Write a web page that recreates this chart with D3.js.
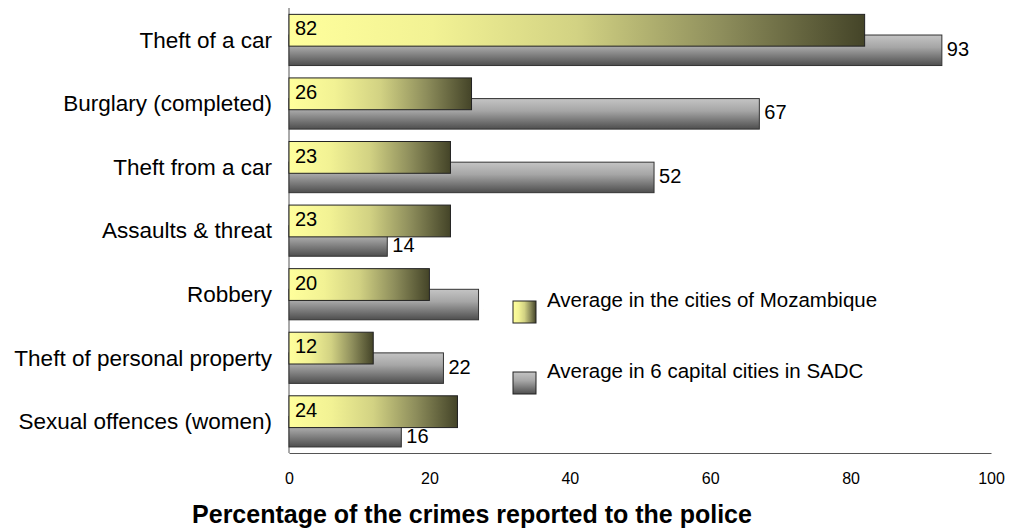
<!DOCTYPE html>
<html lang="en">
<head>
    <meta charset="UTF-8">
    <title>Crimes reported to the police</title>
    <script src="https://d3js.org/d3.v7.min.js"></script>
    <style>
        body { margin: 0; background: #fff; }
        svg text { font-family: "Liberation Sans", Arial, sans-serif; fill: #000; }
        .cat-label { font-size: 22.5px; text-anchor: end; }
        .val-label { font-size: 20px; }
        .tick text { font-size: 16px; }
        .legend-label { font-size: 20.5px; }
        .axis-title { font-size: 25px; font-weight: bold; text-anchor: middle; }
    </style>
</head>
<body>
<script>
    const categories = ["Theft of a car", "Burglary (completed)", "Theft from a car", "Assaults & threat",
        "Robbery", "Theft of personal property", "Sexual offences (women)"];
    const mozambique = [82, 26, 23, 23, 20, 12, 24];
    const sadc = [93, 67, 52, 14, 27, 22, 16];
    const xTicks = [0, 20, 40, 60, 80, 100];
    const seriesNames = ["Average in the cities of Mozambique", "Average in 6 capital cities in SADC"];

    let width = 1013;
    let height = 529;

    let svg = d3.select("body").append("svg")
        .attr("width", width)
        .attr("height", height);

    let defs = svg.append("defs");

    // yellow bars fade from light yellow to dark olive, left to right
    let yellowGrad = defs.append("linearGradient")
        .attr("id", "yellowGrad")
        .attr("x1", "0").attr("y1", "0").attr("x2", "1").attr("y2", "0");
    [[0, "#ffff9c"], [0.25, "#f2f294"], [0.5, "#d2d283"], [0.75, "#8e8e5c"], [1, "#444428"]]
        .forEach(s => yellowGrad.append("stop").attr("offset", s[0]).attr("stop-color", s[1]));

    // grey bars fade from light grey to dark grey, top to bottom
    let greyGrad = defs.append("linearGradient")
        .attr("id", "greyGrad")
        .attr("x1", "0").attr("y1", "0").attr("x2", "0").attr("y2", "1");
    [[0, "#c4c4c4"], [0.4, "#a6a6a6"], [1, "#4e4e4e"]]
        .forEach(s => greyGrad.append("stop").attr("offset", s[0]).attr("stop-color", s[1]));

    let x = d3.scaleLinear()
        .domain([0, 100])
        .range([289, 991]);

    let y = d3.scaleBand()
        .domain(categories)
        .range([8, 453])
        .padding(0);

    let bw = y.bandwidth();

    // axis lines
    svg.append("line")
        .attr("x1", x(0)).attr("x2", x(0))
        .attr("y1", 8).attr("y2", 453)
        .attr("stroke", "#555");

    let xAxis = svg.append("g")
        .attr("transform", "translate(0,453)")
        .call(d3.axisBottom(x).tickValues(xTicks).tickSize(0).tickPadding(20));
    xAxis.select(".domain").attr("stroke", "#555");
    xAxis.selectAll(".tick text").attr("font-family", null).attr("font-size", null);

    // SADC bars (behind)
    svg.selectAll(".sadc")
        .data(categories)
        .enter().append("rect")
        .attr("class", "sadc")
        .attr("x", x(0))
        .attr("y", d => y(d) + bw * 0.425)
        .attr("width", (d, i) => x(sadc[i]) - x(0))
        .attr("height", bw * 0.48)
        .attr("fill", "url(#greyGrad)")
        .attr("stroke", "#333")
        .attr("stroke-width", 1);

    // Mozambique bars (front)
    svg.selectAll(".moz")
        .data(categories)
        .enter().append("rect")
        .attr("class", "moz")
        .attr("x", x(0))
        .attr("y", d => y(d) + bw * 0.1)
        .attr("width", (d, i) => x(mozambique[i]) - x(0))
        .attr("height", bw * 0.5)
        .attr("fill", "url(#yellowGrad)")
        .attr("stroke", "#222")
        .attr("stroke-width", 1);

    svg.selectAll(".moz-label")
        .data(categories)
        .enter().append("text")
        .attr("class", "val-label")
        .attr("x", x(0) + 6)
        .attr("y", d => y(d) + bw * 0.1 + 21)
        .text((d, i) => mozambique[i]);

    // SADC labels, pushed down a little where the yellow bar is longer
    svg.selectAll(".sadc-label")
        .data(categories)
        .enter().append("text")
        .attr("class", "val-label")
        .attr("x", (d, i) => x(sadc[i]) + 5)
        .attr("y", (d, i) => y(d) + bw * 0.64 + (mozambique[i] > sadc[i] ? 6 : 0))
        .attr("dy", "0.35em")
        .text((d, i) => sadc[i]);

    // category labels
    svg.selectAll(".cat-label")
        .data(categories)
        .enter().append("text")
        .attr("class", "cat-label")
        .attr("x", 272)
        .attr("y", d => y(d) + bw / 2)
        .attr("dy", "0.35em")
        .text(d => d);

    // legend, white box drawn over the plot
    let legend = svg.append("g");
    legend.append("rect")
        .attr("x", 484).attr("y", 283)
        .attr("width", 420).attr("height", 125)
        .attr("fill", "#fff");

    let swatchFills = ["url(#yellowGrad)", "url(#greyGrad)"];
    seriesNames.forEach((name, i) => {
        let sy = 301 + i * 71;
        legend.append("rect")
            .attr("x", 513).attr("y", sy)
            .attr("width", 23).attr("height", 22)
            .attr("fill", swatchFills[i])
            .attr("stroke", "#222");
        legend.append("text")
            .attr("class", "legend-label")
            .attr("x", 547)
            .attr("y", sy + 6)
            .text(name);
    });

    svg.append("text")
        .attr("class", "axis-title")
        .attr("x", 472)
        .attr("y", 523)
        .text("Percentage of the crimes reported to the police");
</script>
</body>
</html>
